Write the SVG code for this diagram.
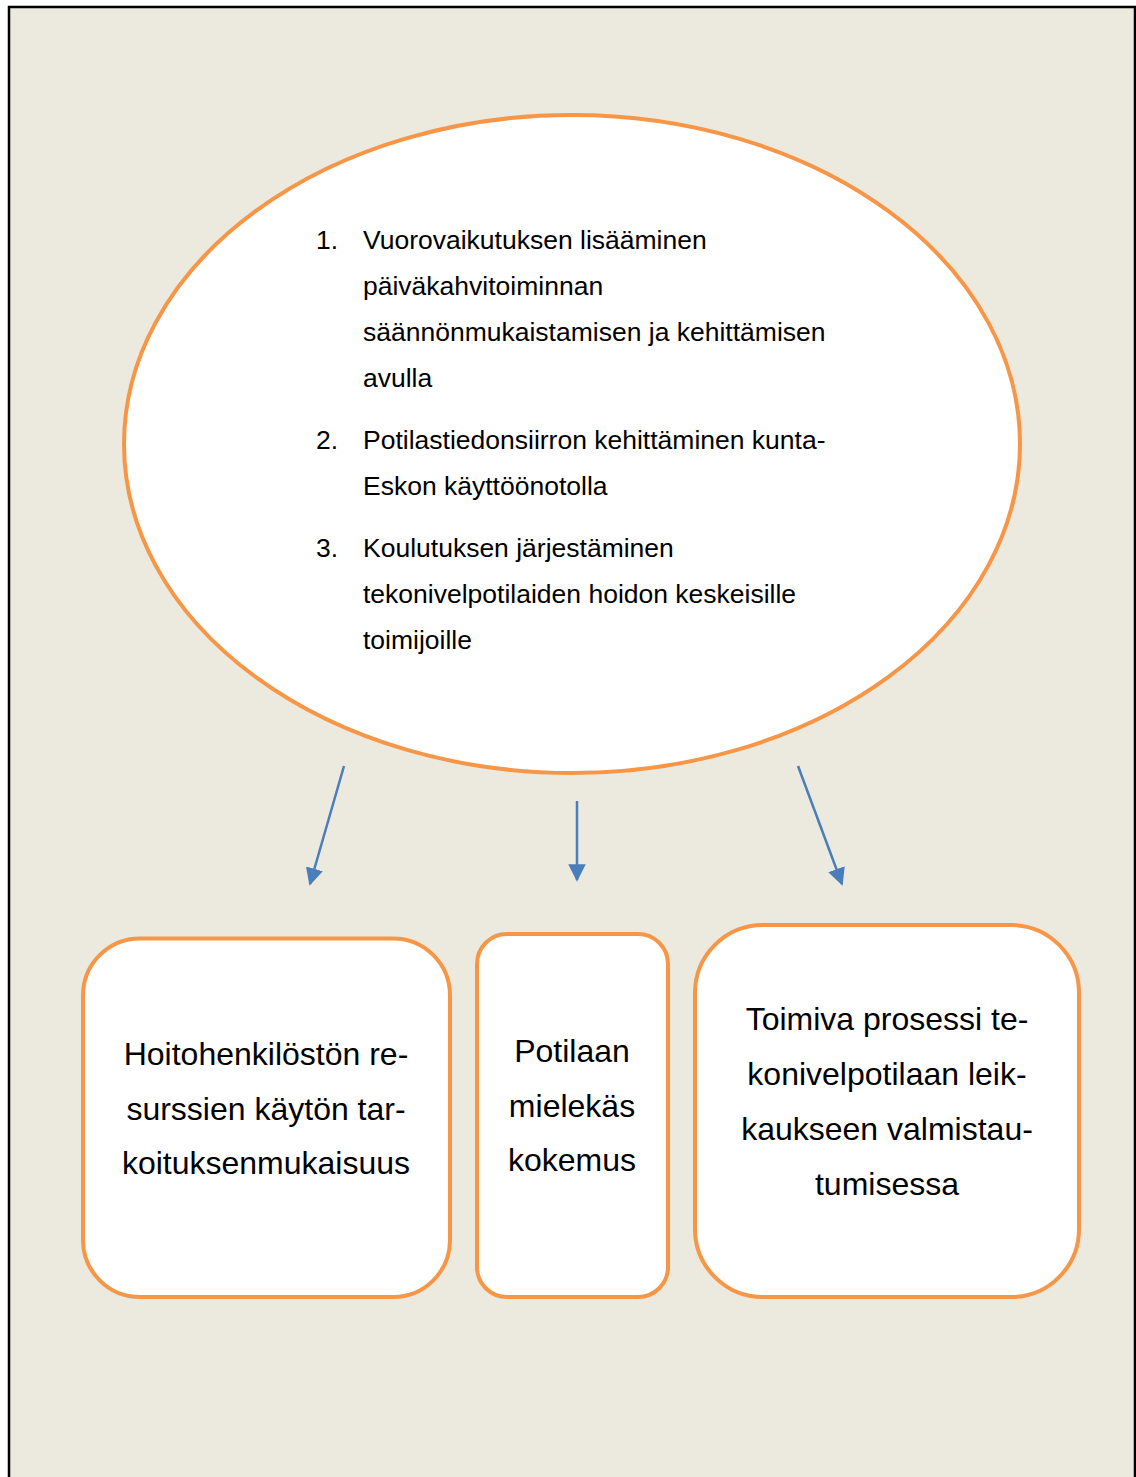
<svg xmlns="http://www.w3.org/2000/svg" width="1136" height="1477" viewBox="0 0 1136 1477">
<style>
.node{fill:#FFFFFF;stroke:#F79646;stroke-width:4}
.list{font-family:"Liberation Sans",Arial,sans-serif;font-size:26.5px;fill:#000}
.box{font-family:"Liberation Sans",Arial,sans-serif;font-size:32px;fill:#000;text-anchor:middle}
.conn{stroke:#4A7EBB;stroke-width:2.5;fill:none}
</style>
<defs>
<marker id="ah" viewBox="0 0 10 10" refX="9" refY="5" markerWidth="7" markerHeight="7" markerUnits="strokeWidth" orient="auto">
<path d="M0,0 L10,5 L0,10 Z" fill="#4A7EBB"/>
</marker>
</defs>
<rect x="0" y="0" width="1136" height="1477" fill="#FFFFFF"/>
<rect x="9" y="7" width="1126" height="1480" fill="#ECE9DF" stroke="#000" stroke-width="2.5"/>
<g id="ellipse-node">
<ellipse class="node" cx="572" cy="444" rx="448" ry="329"/>
<text class="list" x="316" y="249">1.</text>
<text class="list" x="363" y="249">Vuorovaikutuksen lisääminen</text>
<text class="list" x="363" y="295">päiväkahvitoiminnan</text>
<text class="list" x="363" y="341">säännönmukaistamisen ja kehittämisen</text>
<text class="list" x="363" y="387">avulla</text>
<text class="list" x="316" y="449">2.</text>
<text class="list" x="363" y="449">Potilastiedonsiirron kehittäminen kunta-</text>
<text class="list" x="363" y="495">Eskon käyttöönotolla</text>
<text class="list" x="316" y="557">3.</text>
<text class="list" x="363" y="557">Koulutuksen järjestäminen</text>
<text class="list" x="363" y="603">tekonivelpotilaiden hoidon keskeisille</text>
<text class="list" x="363" y="649">toimijoille</text>
</g>
<g id="connectors">
<line class="conn" x1="344" y1="766" x2="310" y2="884" marker-end="url(#ah)"/>
<line class="conn" x1="577" y1="801" x2="577" y2="880" marker-end="url(#ah)"/>
<line class="conn" x1="798" y1="766" x2="842" y2="884" marker-end="url(#ah)"/>
</g>
<g id="box1">
<rect class="node" x="83" y="938.5" width="367" height="358.5" rx="57" ry="57"/>
<text class="box" x="266" y="1065">Hoitohenkilöstön re-</text>
<text class="box" x="266" y="1120">surssien käytön tar-</text>
<text class="box" x="266" y="1174">koituksenmukaisuus</text>
</g>
<g id="box2">
<rect class="node" x="477" y="934" width="191" height="363" rx="30" ry="30"/>
<text class="box" x="572" y="1062">Potilaan</text>
<text class="box" x="572" y="1117">mielekäs</text>
<text class="box" x="572" y="1171">kokemus</text>
</g>
<g id="box3">
<rect class="node" x="695" y="925" width="384" height="372" rx="68" ry="68"/>
<text class="box" x="887" y="1030">Toimiva prosessi te-</text>
<text class="box" x="887" y="1085">konivelpotilaan leik-</text>
<text class="box" x="887" y="1140">kaukseen valmistau-</text>
<text class="box" x="887" y="1195">tumisessa</text>
</g>
</svg>
